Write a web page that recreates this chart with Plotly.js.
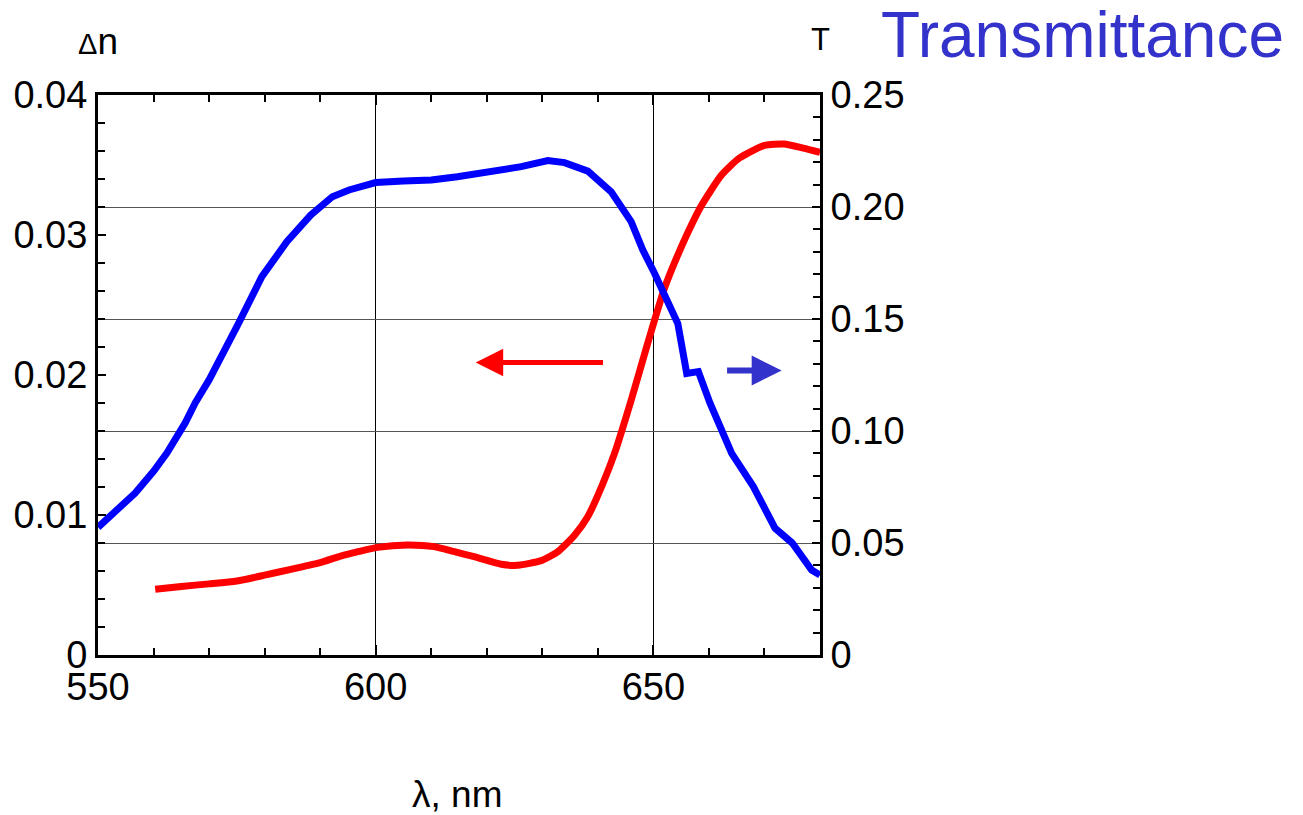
<!DOCTYPE html>
<html>
<head>
<meta charset="utf-8">
<script src="https://cdn.plot.ly/plotly-3.0.1.min.js"></script>
<style>html,body{margin:0;padding:0;background:#fff;}#chart{width:1303px;height:815px;}</style>
</head>
<body>
<div id="chart"></div>
<script>
// Δn (left axis), red curve
const dnWavelength = [560.3, 565, 570, 575, 580, 584.7, 590, 593.7, 597, 600.3, 605.7, 610.5, 614, 617.7, 622.6, 625.6, 629.8, 632.8, 635.8, 638.2, 640, 643, 646, 649, 652, 654, 656, 658.5, 662.3, 665.5, 670, 673.5, 677, 680];
const dnValues = [0.00469, 0.0049, 0.00508, 0.00529, 0.0057, 0.00612, 0.0066, 0.00707, 0.0074, 0.00769, 0.00786, 0.00774, 0.0074, 0.00702, 0.00648, 0.00641, 0.00674, 0.00738, 0.00855, 0.0099, 0.0114, 0.0144, 0.0182, 0.0223, 0.0262, 0.0282, 0.0300, 0.0320, 0.0343, 0.0355, 0.0364, 0.0365, 0.0362, 0.0359];
// Transmittance (right axis), blue curve
const tWavelength = [550, 553, 556.7, 560, 562.4, 565.7, 567.5, 570, 572, 575.3, 579.5, 584, 588.3, 592.2, 595.2, 600, 605, 610, 614.7, 620.2, 626.2, 631, 634, 638.2, 642.4, 646, 648.1, 650.2, 652, 654.4, 656, 658.1, 660.2, 664.1, 668, 671.9, 675, 678.5, 680];
const tValues = [0.057, 0.064, 0.0723, 0.082, 0.0902, 0.1036, 0.1125, 0.1228, 0.1317, 0.148, 0.1689, 0.1845, 0.1964, 0.2046, 0.2076, 0.2109, 0.2116, 0.2121, 0.2135, 0.2155, 0.218, 0.2207, 0.2198, 0.216, 0.2068, 0.1935, 0.1808, 0.1704, 0.16, 0.148, 0.1257, 0.1265, 0.1124, 0.09, 0.0752, 0.0566, 0.05, 0.0379, 0.0357];

const xTickVals = [550, 600, 650];
const xTickText = ['550', '600', '650'];
const yTickVals = [0, 0.01, 0.02, 0.03, 0.04];
const yTickText = ['0', '0.01', '0.02', '0.03', '0.04'];
const y2TickVals = [0, 0.05, 0.10, 0.15, 0.20, 0.25];
const y2TickText = ['0', '0.05', '0.10', '0.15', '0.20', '0.25'];

const FONT = 'Liberation Sans, Arial, sans-serif';
const BLUE = '#0000ff', RED = '#ff0000', TITLEBLUE = '#3333cc';
const TICKSIZE = 38;

const traces = [
  {x: tWavelength, y: tValues, yaxis: 'y2', mode: 'lines', line: {color: BLUE, width: 7}, hoverinfo: 'skip'},
  {x: dnWavelength, y: dnValues, yaxis: 'y', mode: 'lines', line: {color: RED, width: 7, shape: 'spline', smoothing: 0.6}, hoverinfo: 'skip'}
];

const layout = {
  width: 1303, height: 815,
  margin: {l: 98, r: 483, t: 95, b: 160, pad: 0},
  paper_bgcolor: '#fff', plot_bgcolor: '#fff',
  showlegend: false,
  font: {family: FONT, size: TICKSIZE, color: '#000'},
  title: {text: 'Transmittance', font: {family: FONT, size: 64, color: TITLEBLUE},
          xref: 'container', yref: 'container', x: 1284/1303, xanchor: 'right', y: 1 - 35/815, yanchor: 'middle'},
  xaxis: {
    range: [550, 680], tickvals: xTickVals, ticktext: xTickText,
    ticks: 'inside', ticklen: 10, tickwidth: 2, tickcolor: '#000',
    minor: {dtick: 10, tick0: 550, ticks: 'inside', ticklen: 7, tickwidth: 2, tickcolor: '#000', showgrid: false},
    showline: true, linewidth: 3, linecolor: '#000', mirror: 'ticks',
    showgrid: true, gridcolor: '#000', gridwidth: 1, zeroline: false,
    tickfont: {family: FONT, size: TICKSIZE, color: '#000'}, ticklabelstandoff: -4
  },
  yaxis: {
    range: [0, 0.04], tickvals: yTickVals, ticktext: yTickText,
    ticks: 'inside', ticklen: 8, tickwidth: 2, tickcolor: '#000',
    minor: {dtick: 0.002, tick0: 0, ticks: 'inside', ticklen: 7, tickwidth: 2, tickcolor: '#000', showgrid: false},
    showline: true, linewidth: 3, linecolor: '#000',
    showgrid: false, zeroline: false,
    tickfont: {family: FONT, size: TICKSIZE, color: '#000'}, ticklabelstandoff: 0
  },
  yaxis2: {
    overlaying: 'y', side: 'right', anchor: 'x',
    range: [0, 0.25], tickvals: y2TickVals, ticktext: y2TickText,
    ticks: 'inside', ticklen: 8, tickwidth: 2, tickcolor: '#000',
    minor: {dtick: 0.01, tick0: 0, ticks: 'inside', ticklen: 7, tickwidth: 2, tickcolor: '#000', showgrid: false},
    showline: true, linewidth: 3, linecolor: '#000',
    showgrid: true, gridcolor: '#555', gridwidth: 1, zeroline: false,
    tickfont: {family: FONT, size: TICKSIZE, color: '#000'}, ticklabelstandoff: 0
  },
  annotations: [
    {xref: 'paper', yref: 'paper', x: (98 - 98) / 722, y: (655 - 42) / 560, xanchor: 'center', yanchor: 'middle', showarrow: false,
     text: '<span style="font-size:29px">Δ</span>n', font: {family: FONT, size: 37, color: '#000'}},
    {xref: 'paper', yref: 'paper', x: (820 - 98) / 722, y: (655 - 40) / 560, xanchor: 'center', yanchor: 'middle', showarrow: false,
     text: 'T', font: {family: FONT, size: 31, color: '#000'}},
    {xref: 'paper', yref: 'paper', x: (457 - 98) / 722, y: (655 - 794) / 560, xanchor: 'center', yanchor: 'middle', showarrow: false,
     text: 'λ, nm', font: {family: FONT, size: 37, color: '#000'}},
    {xref: 'x', yref: 'y', x: 618, y: 0.0209, axref: 'x', ayref: 'y', ax: 641.2, ay: 0.0209, text: '', showarrow: true,
     arrowhead: 2, arrowsize: 1.1, arrowwidth: 5, arrowcolor: RED, standoff: 0, startstandoff: 0},
    {xref: 'x', yref: 'y2', x: 673.1, y: 0.127, axref: 'x', ayref: 'y2', ax: 663, ay: 0.127, text: '', showarrow: true,
     arrowhead: 2, arrowsize: 1.0, arrowwidth: 6, arrowcolor: TITLEBLUE, standoff: 0, startstandoff: 0}
  ]
};

Plotly.newPlot('chart', traces, layout, {staticPlot: true, displayModeBar: false});
</script>
</body>
</html>
